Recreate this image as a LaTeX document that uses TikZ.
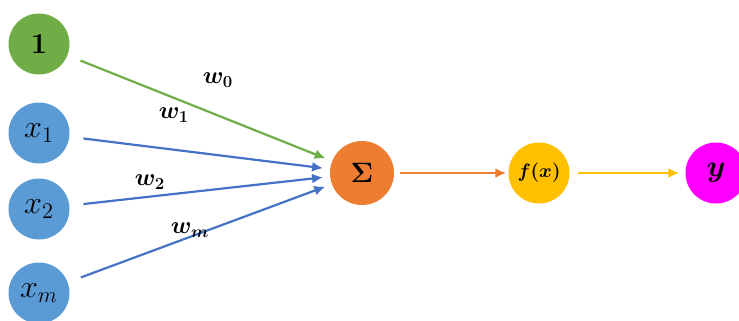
\documentclass[tikz,border=0pt]{standalone}
\usepackage{amsmath}
\usepackage{amssymb}
\usepackage{tikz}
\usetikzlibrary{arrows.meta}
\definecolor{ingreen}{HTML}{70AD47}
\definecolor{inblue}{HTML}{5B9BD5}
\definecolor{lnblue}{HTML}{4472C4}
\definecolor{sumorange}{HTML}{ED7D31}
\definecolor{actyellow}{HTML}{FFC000}
\definecolor{outpink}{HTML}{FF00FF}
\newcommand{\lbl}[2]{\scalebox{#1}{$#2$}}
\tikzset{
  neuron/.style={circle,draw=none,minimum size=61pt,inner sep=0pt,font=\huge},
  link/.style={line width=2.2pt,-{Latex[length=11pt,width=10pt]},shorten <=14pt,shorten >=7pt},
  weight/.style={font=\LARGE}
}
\begin{document}
\begin{tikzpicture}[x=1pt,y=-1pt]
\useasboundingbox (0,0) rectangle (739,321);
% inputs
\node[neuron,fill=ingreen] (one) at (39,44) {\lbl{1.4}{\boldsymbol{1}}};
\node[neuron,fill=inblue] (x1) at (39,133) {\lbl{1.55}{x_1}};
\node[neuron,fill=inblue] (x2) at (39,209) {\lbl{1.55}{x_2}};
\node[neuron,fill=inblue] (xm) at (39,293) {\lbl{1.55}{x_m}};
% sum, activation, output
\node[neuron,fill=sumorange,minimum size=64pt] (sum) at (362,173) {\lbl{1.35}{\boldsymbol{\Sigma}}};
\node[neuron,fill=actyellow,font=\Large] (act) at (539,173) {\lbl{1.35}{\boldsymbol{f(x)}}};
\node[neuron,fill=outpink] (out) at (716,173) {\lbl{1.45}{\boldsymbol{y}}};
% weighted links
\draw[link,ingreen] (one) -- (sum);
\draw[link,lnblue] (x1) -- (sum);
\draw[link,lnblue] (x2) -- (sum);
\draw[link,lnblue] (xm) -- (sum);
\draw[link,sumorange,shorten <=6pt,shorten >=2pt] (sum) -- (act);
\draw[link,actyellow,shorten <=8pt,shorten >=6pt] (act) -- (out);
% weights
\node[weight] (w0) at (218,80) {\lbl{1.4}{\boldsymbol{w_0}}};
\node[weight] (w1) at (174,115) {\lbl{1.4}{\boldsymbol{w_1}}};
\node[weight] (w2) at (150,182) {\lbl{1.4}{\boldsymbol{w_2}}};
\node[weight] (wm) at (190,230) {\lbl{1.4}{\boldsymbol{w_m}}};
\end{tikzpicture}
\end{document}
